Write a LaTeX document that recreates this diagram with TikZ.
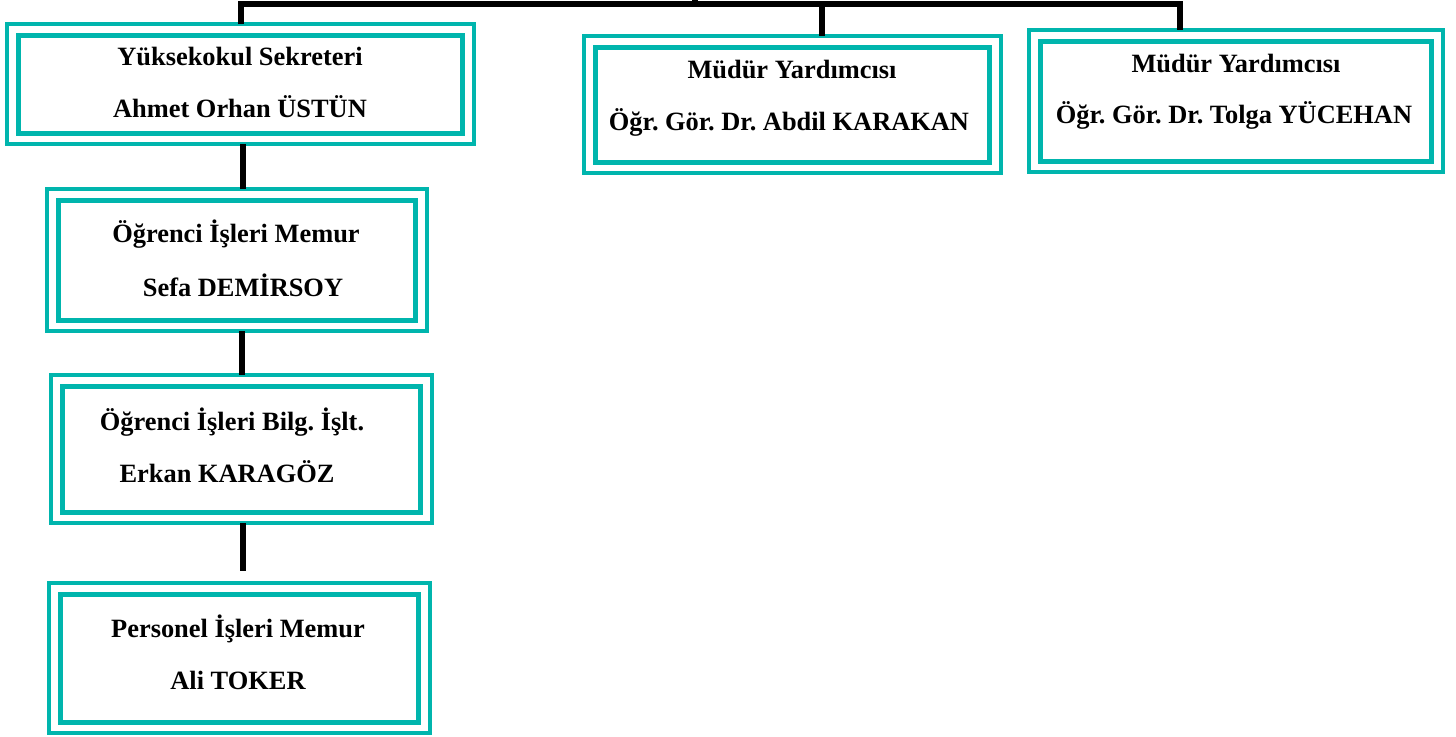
\documentclass[tikz,border=0pt]{standalone}
\usepackage{fontspec}
\setmainfont{Liberation Serif}
\usetikzlibrary{calc}
\definecolor{tealbox}{RGB}{0,181,173}
\frenchspacing
\begin{document}
\begin{tikzpicture}[x=0.5pt,y=-0.5pt,
  obox/.style={draw=tealbox, line width=2pt, rectangle, inner sep=0pt, outer sep=0pt, fill=white},
  ibox/.style={draw=tealbox, line width=2.5pt},
  conn/.style={draw=black, line width=2.8pt},
  txt/.style={anchor=base, inner sep=0pt, font=\bfseries\fontsize{13.2}{15}\selectfont}]
\useasboundingbox (0,0) rectangle (1456,736);
% boxes
\node[obox, minimum width=233.5pt, minimum height=60pt] (b1) at (240.5,84) {};
\node[obox, minimum width=190pt, minimum height=71pt] (b2) at (237,260) {};
\node[obox, minimum width=190.5pt, minimum height=74pt] (b3) at (241.5,449) {};
\node[obox, minimum width=190.5pt, minimum height=75pt] (b4) at (239.5,658) {};
\node[obox, minimum width=208.5pt, minimum height=68.5pt] (m1) at (792.5,104.5) {};
\node[obox, minimum width=207pt, minimum height=71pt] (m2) at (1236,101) {};
\foreach \b in {b1,b2,b3,b4,m1,m2}{
  \draw[ibox] ($(\b.north west)+(11.5,11)$) rectangle ($(\b.south east)+(-11.5,-11)$);
}
% texts
\node[txt] (t1a) at (240,65) {Yüksekokul Sekreteri};
\node[txt] (t1b) at (240,117) {Ahmet Orhan ÜSTÜN};
\node[txt] (t2a) at (236,242) {Öğrenci İşleri Memur};
\node[txt] (t2b) at (243,296) {Sefa DEMİRSOY};
\node[txt] (t3a) at (232,430) {Öğrenci İşleri Bilg. İşlt.};
\node[txt] (t3b) at (227,482) {Erkan KARAGÖZ};
\node[txt] (t4a) at (238,637) {Personel İşleri Memur};
\node[txt] (t4b) at (238,689) {Ali TOKER};
\node[txt] (tm1a) at (792,78) {Müdür Yardımcısı};
\node[txt] (tm1b) at (789,130) {Öğr. Gör. Dr. Abdil KARAKAN};
\node[txt] (tm2a) at (1236,72) {Müdür Yardımcısı};
\node[txt] (tm2b) at (1234,123) {Öğr. Gör. Dr. Tolga YÜCEHAN};
% connectors
\coordinate (tl) at (241,4);
\coordinate (tr) at (1180,4);
\coordinate (s1) at (822,4);
\coordinate (up) at (695,-6);
\draw[conn] (tl |- b1.north) -- (tl) -- (tr) -- (tr |- m2.north);
\draw[conn] (s1) -- (s1 |- m1.north);
\draw[conn] (up |- tl) -- (up);
\coordinate (c1) at (243,0);
\coordinate (c2) at (242,0);
\coordinate (c3) at (243,571);
\draw[conn] (c1 |- b1.south) -- (c1 |- b2.north);
\draw[conn] (c2 |- b2.south) -- (c2 |- b3.north);
\draw[conn] (c3 |- b3.south) -- (c3);
\end{tikzpicture}
\end{document}
